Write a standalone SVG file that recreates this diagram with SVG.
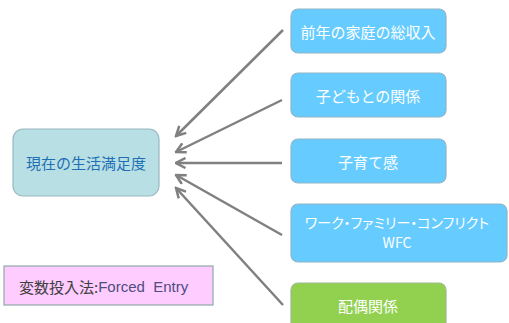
<svg xmlns="http://www.w3.org/2000/svg" width="509" height="323" viewBox="0 0 509 323">
<style>
.t{font-family:"Noto Sans CJK JP","Liberation Sans",sans-serif;text-anchor:middle;dominant-baseline:central}
.rb{fill:#66ccff;stroke:#8fb3c8;stroke-width:1.2}
.wt{fill:#ffffff;font-size:15px}
.ar{stroke:#808080;stroke-width:2.5;fill:none;marker-end:url(#ah)}
.p{font-feature-settings:"palt"}
</style>
<defs>
<marker id="ah" viewBox="0 0 12 12" refX="10.5" refY="6" markerWidth="12" markerHeight="12" markerUnits="userSpaceOnUse" orient="auto">
<path d="M1,1 L10.5,6 L1,11" fill="none" stroke="#808080" stroke-width="2.5"/>
</marker>
</defs>
<rect width="509" height="323" fill="#ffffff"/>
<g id="connectors">
<line class="ar" x1="283" y1="30" x2="176" y2="136"/>
<line class="ar" x1="282" y1="100" x2="176" y2="152"/>
<line class="ar" x1="282" y1="163" x2="176" y2="163"/>
<line class="ar" x1="282" y1="235" x2="176" y2="175"/>
<line class="ar" x1="283" y1="305" x2="176" y2="188"/>
</g>
<g id="satisfaction">
<rect x="13" y="129" width="146" height="67" rx="10" fill="#b7dfe4" stroke="#9ab8c0" stroke-width="1.2"/>
<text class="t" x="86" y="162" font-size="15" fill="#1f6fb5">現在の生活満足度</text>
</g>
<g id="income">
<rect class="rb" x="291" y="9" width="155" height="44" rx="7"/>
<text class="t wt" x="368" y="31">前年の家庭の総収入</text>
</g>
<g id="child-relation">
<rect class="rb" x="291" y="73" width="155" height="44" rx="7"/>
<text class="t wt" x="368" y="95">子どもとの関係</text>
</g>
<g id="parenting">
<rect class="rb" x="291" y="139" width="155" height="44" rx="7"/>
<text class="t wt" x="368" y="161">子育て感</text>
</g>
<g id="wfc">
<rect class="rb" x="291" y="204" width="216" height="58" rx="7"/>
<text class="t p" x="397" y="222" font-size="14" fill="#ffffff">ワーク・ファミリー・コンフリクト</text>
<text class="t" x="397" y="242" font-size="14" fill="#ffffff">WFC</text>
</g>
<g id="spouse">
<rect x="291" y="283" width="155" height="50" rx="7" fill="#92d050" stroke="#a0b890" stroke-width="1.2"/>
<text class="t wt" x="368" y="305">配偶関係</text>
</g>
<g id="legend">
<rect x="4" y="266" width="209" height="39" fill="#ffccff" stroke="#8fa8a8" stroke-width="1.2"/>
<text x="19" y="286" font-size="15" dominant-baseline="central" font-family="Noto Sans CJK JP,Liberation Sans,sans-serif"><tspan fill="#404040">変数投入法:</tspan><tspan fill="#4d4d80" font-family="Liberation Sans,sans-serif" xml:space="preserve">Forced  Entry</tspan></text>
</g>
</svg>
